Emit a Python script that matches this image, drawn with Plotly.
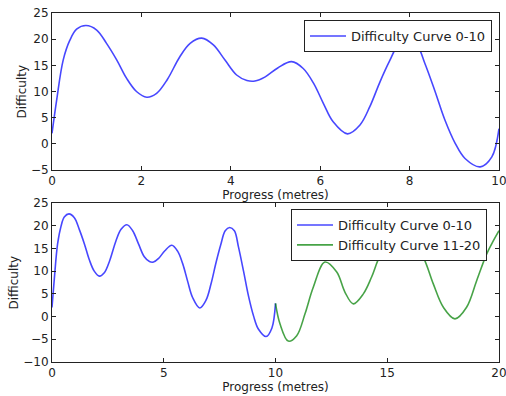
import plotly.graph_objects as go

# Difficulty Curve 0-10
x_a = [0.0, 0.105, 0.25, 0.40, 0.55, 0.76, 1.0, 1.22, 1.45, 1.67, 1.89, 2.12, 2.34, 2.58,
       2.86, 3.09, 3.35, 3.61, 3.87, 4.13, 4.36, 4.54, 4.77, 5.05, 5.36, 5.62,
       5.85, 6.07, 6.29, 6.61, 6.89, 7.11, 7.34, 7.55, 7.75, 7.95, 8.16, 8.34, 8.57,
       8.79, 9.02, 9.24, 9.58, 9.84, 10.0]
y_a = [2.0, 8.4, 16.0, 19.8, 21.9, 22.6, 21.75, 19.2, 16.0, 12.5, 10.0, 8.9, 9.65, 12.3,
       16.65, 19.2, 20.2, 18.9, 16.0, 13.15, 12.1, 12.0, 12.8, 14.5, 15.7, 14.4,
       11.6, 7.75, 4.2, 1.9, 3.6, 7.1, 11.9, 15.8, 18.9, 19.6, 18.9, 15.4, 10.0,
       4.55, 0.1, -2.8, -4.4, -2.5, 2.9]

# Difficulty Curve 11-20
x_b = [10.0, 10.2, 10.57, 10.95, 11.32, 11.69, 12.21, 12.74, 13.11, 13.48, 13.93, 14.30,
       14.68, 15.65, 16.61, 17.06, 17.51, 18.03, 18.55, 19.0, 19.45, 19.75, 20.0]
y_b = [2.9, -1.6, -5.4, -4.2, 0.6, 6.45, 12.0, 9.8, 5.35, 2.8, 5.0, 8.7,
       13.4, 20.5, 13.1, 7.2, 2.05, -0.5, 2.05, 7.9, 13.8, 16.7, 18.9]

x_ticks_top = [0, 2, 4, 6, 8, 10]
y_ticks_top = [-5, 0, 5, 10, 15, 20, 25]
x_ticks_bot = [0, 5, 10, 15, 20]
y_ticks_bot = [-10, -5, 0, 5, 10, 15, 20, 25]

name_a = "Difficulty Curve 0-10"
name_b = "Difficulty Curve 11-20"
x_title = "Progress (metres)"
y_title = "Difficulty"
blue = "rgba(0,0,255,0.72)"
green = "rgba(0,128,0,0.72)"

fig = go.Figure()
fig.add_trace(go.Scatter(x=x_a, y=y_a, mode="lines", name=name_a, showlegend=True,
                         line=dict(color=blue, width=1.6, shape="spline", smoothing=1.0),
                         xaxis="x", yaxis="y", legend="legend"))
fig.add_trace(go.Scatter(x=x_a, y=y_a, mode="lines", name=name_a, showlegend=True,
                         line=dict(color=blue, width=1.6, shape="spline", smoothing=1.0),
                         xaxis="x2", yaxis="y2", legend="legend2"))
fig.add_trace(go.Scatter(x=x_b, y=y_b, mode="lines", name=name_b, showlegend=True,
                         line=dict(color=green, width=1.6, shape="spline", smoothing=1.0),
                         xaxis="x2", yaxis="y2", legend="legend2"))

W, H = 506, 396
xd = [52 / W, 499 / W]
yd1 = [1 - 170 / H, 1 - 13 / H]
yd2 = [1 - 362 / H, 1 - 203 / H]

font = "DejaVu Sans, Verdana, sans-serif"
ink = "#222"
axis_common = dict(showline=True, linecolor=ink, linewidth=1, mirror="allticks",
                   ticks="inside", ticklen=4, tickcolor=ink, showgrid=False,
                   zeroline=False, automargin=False, ticklabeloverflow="allow",
                   tickfont=dict(family=font, size=12, color=ink))

fig.update_layout(
    width=W, height=H,
    showlegend=True,
    margin=dict(l=0, r=0, t=0, b=0),
    paper_bgcolor="white", plot_bgcolor="white",
    font=dict(family=font, color=ink),
    xaxis=dict(domain=xd, anchor="y", range=[0, 10], tickvals=x_ticks_top,
               title=dict(text=x_title, font=dict(size=12), standoff=2),
               **axis_common),
    yaxis=dict(domain=yd1, anchor="x", range=[-5, 25], tickvals=y_ticks_top,
               **axis_common),
    xaxis2=dict(domain=xd, anchor="y2", range=[0, 20], tickvals=x_ticks_bot,
                title=dict(text=x_title, font=dict(size=12), standoff=2),
                **axis_common),
    yaxis2=dict(domain=yd2, anchor="x2", range=[-10, 25], tickvals=y_ticks_bot,
                **axis_common),
    legend=dict(x=492 / W, y=1 - 20 / H, xanchor="right", yanchor="top", visible=True,
                bgcolor="white", bordercolor=ink, borderwidth=1, itemwidth=36,
                font=dict(family=font, size=13, color=ink), tracegroupgap=0),
    legend2=dict(x=487 / W, y=1 - 209 / H, xanchor="right", yanchor="top", visible=True,
                 bgcolor="white", bordercolor=ink, borderwidth=1, itemwidth=36,
                 font=dict(family=font, size=13, color=ink), tracegroupgap=0),
    annotations=[
        dict(text=y_title, textangle=-90, xref="paper", yref="paper",
             x=21 / W, y=1 - 91.5 / H, xanchor="center", yanchor="middle",
             showarrow=False, font=dict(family=font, size=12, color=ink)),
        dict(text=y_title, textangle=-90, xref="paper", yref="paper",
             x=13 / W, y=1 - 282.5 / H, xanchor="center", yanchor="middle",
             showarrow=False, font=dict(family=font, size=12, color=ink)),
    ],
)

fig.write_html("out.html", config={"displayModeBar": False},
               post_script="document.body.style.margin='0';document.body.style.overflow='hidden';")
